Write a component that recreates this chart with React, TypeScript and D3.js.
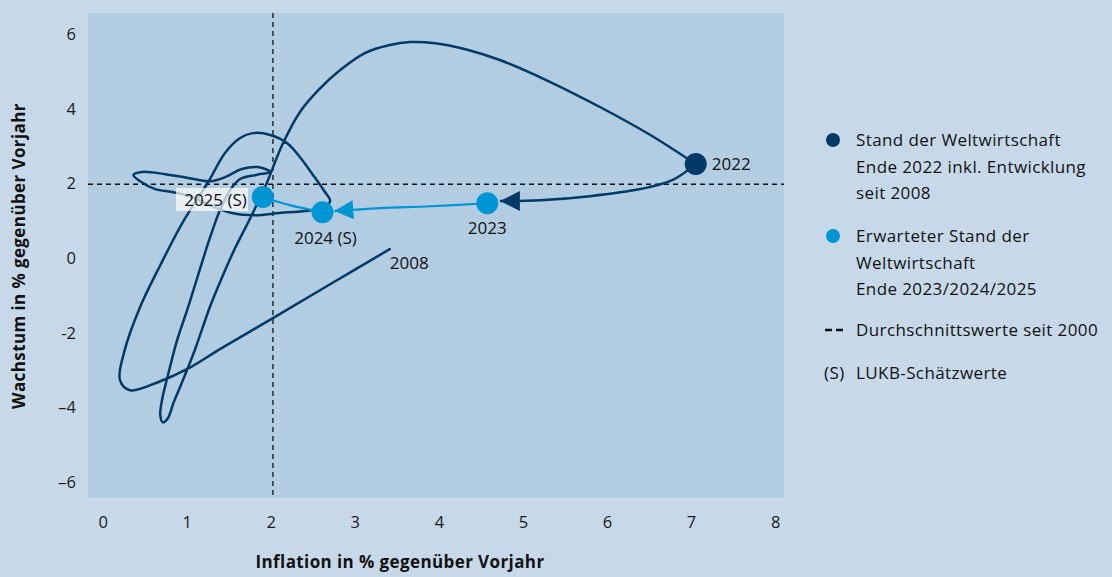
import React from "react";
import * as d3 from "d3";

// Historical path 2008 -> 2022 (inflation %, growth %)
const historyInflation = [
  3.41, 2.70, 2.02, 1.39, 1.02, 0.68, 0.32, 0.20, 0.25, 0.44,
  0.68, 0.95, 1.25, 1.45, 1.63, 1.78, 1.99, 2.19, 2.34, 2.49,
  2.63, 2.70, 2.63, 2.40, 2.10, 1.81, 1.53, 1.27, 1.03, 0.82,
  0.62, 0.44, 0.36, 0.46, 0.74, 1.03, 1.27, 1.45, 1.65, 1.84,
  1.99, 1.82, 1.63, 1.51, 1.40, 1.27, 1.14, 1.00, 0.88, 0.78,
  0.70, 0.68, 0.71, 0.77, 0.84, 0.94, 1.09, 1.27, 1.41, 1.57,
  1.75, 1.94, 2.13, 2.34, 2.56, 2.82, 3.12, 3.41, 3.65, 3.95,
  4.31, 4.72, 5.32, 5.91, 6.51, 7.05,
];
const historyGrowth = [
  0.24, -0.70, -1.61, -2.44, -2.95, -3.30, -3.54, -3.27, -2.52, -1.31,
  -0.19, 0.97, 2.04, 2.82, 3.22, 3.35, 3.30, 3.08, 2.71, 2.25,
  1.80, 1.53, 1.37, 1.26, 1.21, 1.15, 1.21, 1.42, 1.66, 1.77,
  1.85, 2.06, 2.23, 2.31, 2.25, 2.14, 2.06, 2.17, 2.39, 2.44,
  2.31, 2.23, 2.12, 1.82, 1.34, 0.54, -0.38, -1.39, -2.20, -3.06,
  -3.81, -4.21, -4.40, -4.29, -3.86, -3.32, -2.47, -1.31, -0.54, 0.27,
  1.07, 1.98, 3.03, 3.91, 4.50, 5.04, 5.50, 5.71, 5.79, 5.76,
  5.60, 5.31, 4.72, 4.05, 3.30, 2.52,
];

// 2022 -> 2023 transition (dark arrow)
const arrowInflation = [7.05, 6.77, 6.39, 5.79, 5.2, 4.72];
const arrowGrowth = [2.52, 2.09, 1.85, 1.66, 1.55, 1.53];

// Forecast points
const forecastLabels = ["2023", "2024 (S)", "2025 (S)"];
const forecastInflation = [4.57, 2.61, 1.9];
const forecastGrowth = [1.47, 1.23, 1.64];

// light paths
const path2324Inflation = [4.57, 3.89, 3.29, 2.75];
const path2324Growth = [1.47, 1.39, 1.34, 1.26];
const path2425Inflation = [2.61, 2.22, 1.9];
const path2425Growth = [1.23, 1.42, 1.64];

const avgInflation = 2.02;
const avgGrowth = 1.98;

const xTicks = [0, 1, 2, 3, 4, 5, 6, 7, 8];
const yTicks = [-6, -4, -2, 0, 2, 4, 6];
const yTickLabels = ["–6", "–4", "-2", "0", "2", "4", "6"];

const legendDark = ["Stand der Weltwirtschaft", "Ende 2022 inkl. Entwicklung", "seit 2008"];
const legendLight = ["Erwarteter Stand der", "Weltwirtschaft", "Ende 2023/2024/2025"];
const legendDash = "Durchschnittswerte seit 2000";
const legendEst = "LUKB-Schätzwerte";

const DARK = "#003a66";
const LIGHT = "#0095d5";
const FONT = "'Open Sans', sans-serif";

export default function App() {
  const W = 1112, H = 577;
  const left = 88, right = 784, top = 13, bottom = 498;
  const x = d3.scaleLinear().domain([-0.18, 8.1]).range([left, right]);
  const y = d3.scaleLinear().domain([-6.43, 6.57]).range([bottom, top]);

  const line = d3
    .line<[number, number]>()
    .x((d) => x(d[0]))
    .y((d) => y(d[1]))
    .curve(d3.curveCatmullRom.alpha(0.5));

  const zip = (a: number[], b: number[]) => a.map((v, i) => [v, b[i]] as [number, number]);

  const hist = line(zip(historyInflation, historyGrowth)) || "";
  const arrow = line(zip(arrowInflation, arrowGrowth)) || "";
  const p2324 = line(zip(path2324Inflation, path2324Growth)) || "";
  const p2425 = line(zip(path2425Inflation, path2425Growth)) || "";

  const last = historyInflation.length - 1;
  const startX = x(historyInflation[0]);
  const startY = y(historyGrowth[0]);
  const legendStyle = { letterSpacing: "0.4px" };

  return (
    <svg
      width={W}
      height={H}
      style={{ position: "absolute", left: 0, top: 0, fontFamily: FONT }}
    >
      <defs>
        <marker id="arrDark" viewBox="0 0 20 20" refX="20" refY="10" markerWidth="20" markerHeight="20" markerUnits="userSpaceOnUse" orient="auto">
          <path d="M0,0 L20,10 L0,20 Z" fill={DARK} />
        </marker>
        <marker id="arrLight" viewBox="0 0 20 20" refX="20" refY="10" markerWidth="19" markerHeight="19" markerUnits="userSpaceOnUse" orient="auto">
          <path d="M0,0 L20,10 L0,20 Z" fill={LIGHT} />
        </marker>
      </defs>
      <rect x={0} y={0} width={W} height={H} fill="#c7d9e9" />
      <rect x={left} y={top} width={right - left} height={bottom - top} fill="#b2cce2" />

      {/* average lines */}
      <line x1={left} x2={right} y1={y(avgGrowth)} y2={y(avgGrowth)} stroke="#111" strokeWidth={1.3} strokeDasharray="5,4" />
      <line x1={x(avgInflation)} x2={x(avgInflation)} y1={top} y2={bottom} stroke="#111" strokeWidth={1.3} strokeDasharray="5,4" />

      {/* y ticks */}
      {yTicks.map((t, i) => (
        <text key={"y" + t} x={76} y={y(t)} dy="0.35em" textAnchor="end" fontSize={16.5} fill="#1a1a1a">
          {yTickLabels[i]}
        </text>
      ))}
      {/* x ticks */}
      {xTicks.map((t) => (
        <text key={"x" + t} x={x(t)} y={522} dy="0.35em" textAnchor="middle" fontSize={16.5} fill="#1a1a1a">
          {t}
        </text>
      ))}

      {/* axis titles */}
      <text x={400} y={568} textAnchor="middle" fontSize={17} fontWeight="bold" fill="#111" style={legendStyle}>
        Inflation in % gegenüber Vorjahr
      </text>
      <text transform="translate(25,256) rotate(-90)" textAnchor="middle" fontSize={17} fontWeight="bold" fill="#111" style={legendStyle}>
        Wachstum in % gegenüber Vorjahr
      </text>

      {/* historical path */}
      <path d={hist} fill="none" stroke={DARK} strokeWidth={2.5} strokeLinejoin="round" strokeLinecap="round" />
      <path d={arrow} fill="none" stroke={DARK} strokeWidth={2.5} markerEnd="url(#arrDark)" />

      {/* forecast path */}
      <path d={p2324} fill="none" stroke={LIGHT} strokeWidth={2.2} markerEnd="url(#arrLight)" />
      <path d={p2425} fill="none" stroke={LIGHT} strokeWidth={2.2} />

      {/* 2025 label background */}
      <rect x={176} y={188} width={72} height={23} fill="#ffffff" fillOpacity={0.7} />

      {/* dots */}
      <circle cx={x(historyInflation[last])} cy={y(historyGrowth[last])} r={11} fill={DARK} />
      {forecastInflation.map((v, i) => (
        <circle key={"f" + i} cx={x(v)} cy={y(forecastGrowth[i])} r={11} fill={LIGHT} />
      ))}

      {/* labels */}
      <text x={startX} y={startY + 20} fontSize={17} fill="#111">2008</text>
      <text x={x(historyInflation[last]) + 16} y={y(historyGrowth[last])} dy="0.35em" fontSize={17} fill="#111">2022</text>
      <text x={x(forecastInflation[0])} y={y(forecastGrowth[0]) + 31} textAnchor="middle" fontSize={17} fill="#111">
        {forecastLabels[0]}
      </text>
      <text x={x(forecastInflation[1]) + 3} y={y(forecastGrowth[1]) + 32} textAnchor="middle" fontSize={17} fill="#111">
        {forecastLabels[1]}
      </text>
      <text x={x(forecastInflation[2]) - 16} y={y(forecastGrowth[2]) + 9} textAnchor="end" fontSize={17} fill="#111">
        {forecastLabels[2]}
      </text>

      {/* legend */}
      <circle cx={833} cy={140} r={7} fill={DARK} />
      {legendDark.map((t, i) => (
        <text key={"ld" + i} x={856} y={146 + i * 26.5} fontSize={17} fill="#111" style={legendStyle}>{t}</text>
      ))}
      <circle cx={833} cy={236} r={7} fill={LIGHT} />
      {legendLight.map((t, i) => (
        <text key={"ll" + i} x={856} y={242 + i * 26.5} fontSize={17} fill="#111" style={legendStyle}>{t}</text>
      ))}
      <line x1={825} x2={845} y1={330} y2={330} stroke="#111" strokeWidth={2.4} strokeDasharray="7,4" />
      <text x={856} y={336} fontSize={17} fill="#111" style={legendStyle}>{legendDash}</text>
      <text x={824} y={379} fontSize={17} fill="#111" style={legendStyle}>(S)</text>
      <text x={856} y={379} fontSize={17} fill="#111" style={legendStyle}>{legendEst}</text>
    </svg>
  );
}
